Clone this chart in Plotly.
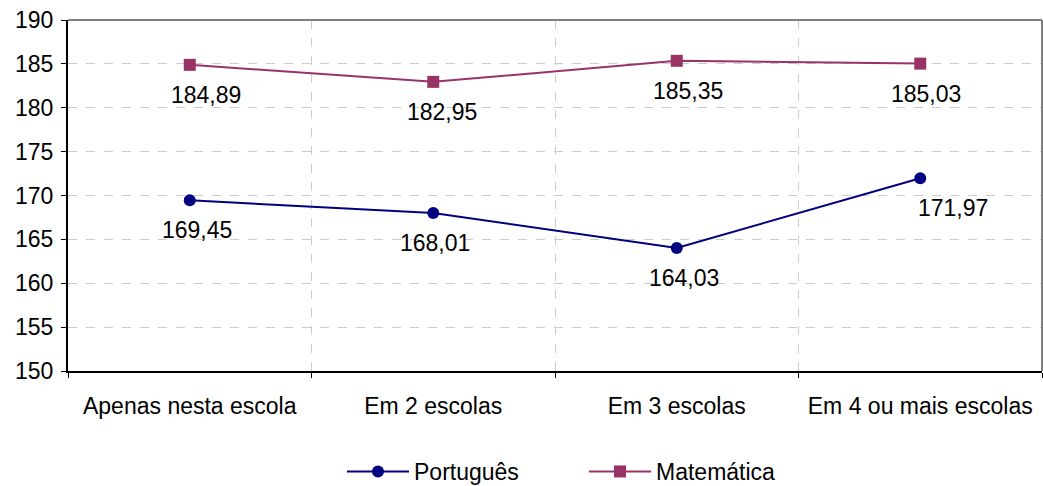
import plotly.graph_objects as go

categories = ["Apenas nesta escola", "Em 2 escolas", "Em 3 escolas", "Em 4 ou mais escolas"]
portugues = [169.45, 168.01, 164.03, 171.97]
matematica = [184.89, 182.95, 185.35, 185.03]
y_ticks = [150, 155, 160, 165, 170, 175, 180, 185, 190]

# label offsets (styling only, pixels)
port_label_dx = [7, 2, 7, 33]
mat_label_dx = [16, 9, 11, 6]
label_dy = -30

FONT = "Liberation Sans, Arial, sans-serif"
NAVY = "#000080"
PLUM = "#993366"
FS = 23

fig = go.Figure()
fig.add_trace(go.Scatter(
    x=categories, y=portugues, name="Português", mode="lines+markers",
    line=dict(color=NAVY, width=2), marker=dict(symbol="circle", size=12, color=NAVY),
))
fig.add_trace(go.Scatter(
    x=categories, y=matematica, name="Matemática", mode="lines+markers",
    line=dict(color=PLUM, width=2), marker=dict(symbol="square", size=12, color=PLUM),
))

def fmt(v):
    return f"{v:.2f}".replace(".", ",")

for series, dxs in ((portugues, port_label_dx), (matematica, mat_label_dx)):
    for c, v, dx in zip(categories, series, dxs):
        fig.add_annotation(x=c, y=v, text=fmt(v), showarrow=False,
                           xshift=dx, yshift=label_dy,
                           font=dict(family=FONT, size=FS, color="#000000"))

# gray frame on top and right
fig.add_shape(type="line", xref="paper", yref="paper", x0=0, x1=1, y0=1, y1=1,
              line=dict(color="#808080", width=2))
fig.add_shape(type="line", xref="paper", yref="paper", x0=1, x1=1, y0=0, y1=1,
              line=dict(color="#808080", width=2))

fig.update_layout(
    width=1043, height=486,
    margin=dict(l=68, r=1, t=20, b=115, autoexpand=False),
    paper_bgcolor="white", plot_bgcolor="white",
    font=dict(family=FONT, size=FS, color="#000000"),
    showlegend=True,
    legend=dict(orientation="h", xref="container", yref="container",
                x=342 / 1043, xanchor="left", y=36 / 486, yanchor="top",
                font=dict(family=FONT, size=FS), itemwidth=62,
                entrywidth=165, bgcolor="rgba(0,0,0,0)"),
)
fig.update_xaxes(
    type="category", range=[-0.5, 3.5], tickson="boundaries", automargin=False,
    showline=True, linecolor="#000000", linewidth=2,
    ticks="outside", ticklen=5, tickcolor="#000000",
    showgrid=True, gridcolor="#cccccc", griddash="dash", gridwidth=1,
    ticklabelstandoff=13, tickfont=dict(family=FONT, size=FS),
)
fig.update_yaxes(
    range=[150, 190], tickvals=y_ticks, automargin=False,
    showline=True, linecolor="#000000", linewidth=2,
    ticks="outside", ticklen=5, tickcolor="#000000",
    showgrid=True, gridcolor="#cccccc", griddash="dash", gridwidth=1,
    zeroline=False, ticklabelstandoff=3, tickfont=dict(family=FONT, size=FS),
)

fig.write_html("out.html", config={"displayModeBar": False},
               post_script="document.body.style.margin='0';")
